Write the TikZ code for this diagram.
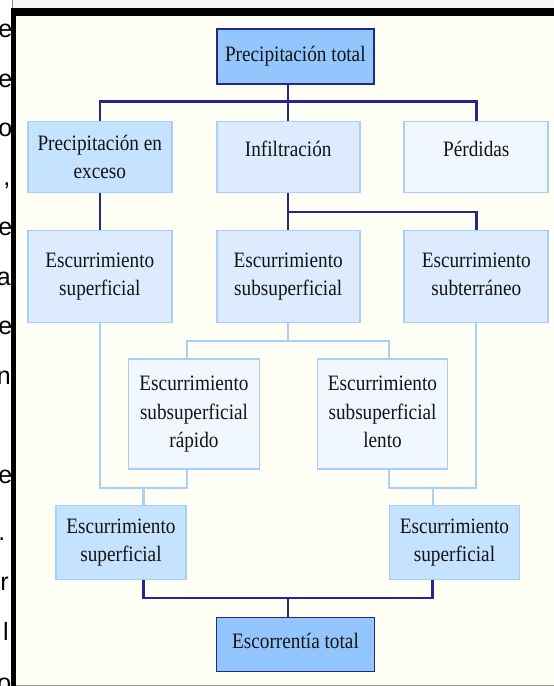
\documentclass[tikz,border=0pt]{standalone}
\usepackage{fontspec}
\setmainfont{Liberation Serif}[FakeStretch=0.875]
\newfontfamily\marginfont{Liberation Sans}
\usetikzlibrary{calc}
\definecolor{dkline}{RGB}{38,38,140}
\definecolor{ltline}{RGB}{166,210,250}
\definecolor{ltborder}{RGB}{166,208,250}
\definecolor{fmed}{RGB}{146,198,253}
\definecolor{flight}{RGB}{197,226,255}
\definecolor{fpale}{RGB}{220,236,254}
\definecolor{fvpale}{RGB}{240,247,255}
\definecolor{cream}{RGB}{255,255,246}
\definecolor{txt}{RGB}{20,20,20}
\begin{document}
\begin{tikzpicture}[x=1pt,y=-1pt,
  box/.style={inner sep=0pt, align=center, text=txt, font=\fontsize{22}{28.5}\selectfont},
  dkbox/.style={draw=dkline, line width=1.8pt},
  ltbox/.style={draw=ltborder, line width=1.8pt},
  dk/.style={draw=dkline, line width=2.5pt},
  lt/.style={draw=ltline, line width=2.3pt},
  mg/.style={anchor=base east, inner sep=0pt, text=black, font=\marginfont\fontsize{25}{25}\selectfont}]
\useasboundingbox (0,0) rectangle (554,686);
% page background and frame
\fill[white] (0,0) rectangle (554,686);
\fill[black!4] (12,0) rectangle (554,8);
\fill[cream] (15.5,15.5) rectangle (554,684.5);
\fill[black] (11,8) rectangle (554,15.5);
\fill[black] (11,8) rectangle (15.5,686);
\draw[black!45, line width=0.8pt] (12.5,0) -- (12.5,8);
\draw[black!40, line width=1pt] (15.5,685) -- (554,685);
% cropped text fragments in the left margin
\node[mg] (m1) at (12.5,37) {e};
\node[mg] (m2) at (12.5,87) {e};
\node[mg] (m3) at (12.5,136) {o};
\node[mg] (m4) at (10.5,185) {,};
\node[mg] (m5) at (12.5,235) {e};
\node[mg] (m6) at (11,285) {a};
\node[mg] (m7) at (12.5,334) {e};
\node[mg] (m8) at (11,384) {n};
\node[mg] (m9) at (12.5,483) {e};
\node[mg] (m10) at (5.5,540) {.};
\node[mg] (m11) at (9,590) {r};
\node[mg] (m12) at (9,640) {l};
\node[mg] (m13) at (11.5,691) {o};
% nodes
\node[box, dkbox, fill=fmed, minimum width=157, minimum height=55] (pt) at (295.3,56.2) {Precipitación total};
\node[box, ltbox, fill=flight, minimum width=144, minimum height=71] (exc) at (99.8,157) {Precipitación en\\exceso};
\node[box, ltbox, fill=fpale, minimum width=143, minimum height=71, text depth=17pt] (inf) at (288.2,157) {Infiltración};
\node[box, ltbox, fill=fvpale, minimum width=144, minimum height=71, text depth=17pt] (per) at (476.3,157) {Pérdidas};
\node[box, ltbox, fill=fpale, minimum width=144, minimum height=92] (es1) at (99.8,276.5) {Escurrimiento\\superficial};
\node[box, ltbox, fill=fpale, minimum width=143, minimum height=92] (es2) at (288.2,276.5) {Escurrimiento\\subsuperficial};
\node[box, ltbox, fill=fpale, minimum width=144, minimum height=92, text depth=4.8pt] (es3) at (476.3,276.5) {Escurrimiento\\subterráneo};
\node[box, ltbox, fill=fvpale, minimum width=131, minimum height=110] (rap) at (194,414.2) {Escurrimiento\\subsuperficial\\rápido};
\node[box, ltbox, fill=fvpale, minimum width=130, minimum height=110, text depth=4.8pt] (len) at (382.5,414.2) {Escurrimiento\\subsuperficial\\lento};
\node[box, ltbox, fill=flight, minimum width=130, minimum height=74] (s5l) at (121,542.5) {Escurrimiento\\superficial};
\node[box, ltbox, fill=flight, minimum width=130, minimum height=74] (s5r) at (454.5,542.5) {Escurrimiento\\superficial};
\node[box, dkbox, fill=fmed, minimum width=158, minimum height=54, text depth=8pt] (et) at (295.5,644.5) {Escorrentía total};
% bus levels
\coordinate (y1) at (0,101.7);
\coordinate (y2) at (0,212);
\coordinate (y3) at (0,341);
\coordinate (y4) at (0,488);
\coordinate (y5) at (0,598);
% dark connectors (top)
\draw[dk] (exc.north) |- (per.north |- y1) -- (per.north);
\draw[dk] (pt.south -| inf.north) -- (inf.north);
\draw[dk] (exc.south) -- (es1.north);
\draw[dk] (inf.south) -- (es2.north);
\draw[dk] (inf.south |- y2) -| (es3.north);
% light connectors
\coordinate (ra) at ([xshift=-7pt]rap.north);
\coordinate (la) at ([xshift=6.5pt]len.north);
\coordinate (rb) at ([xshift=-7pt]rap.south);
\coordinate (lb) at ([xshift=6.5pt]len.south);
\draw[lt] (es2.south) -- (es2.south |- y3);
\draw[lt] (ra) |- (la |- y3) -- (la);
\draw[lt] (es1.south) |- (rb |- y4) -- (rb);
\draw[lt] (es3.south) |- (lb |- y4) -- (lb);
\coordinate (mL) at ($(es1.south |- y4)!0.5!(rb |- y4)$);
\coordinate (mR) at ($(lb |- y4)!0.5!(es3.south |- y4)$);
\draw[lt] (mL) -- (mL |- s5l.north);
\draw[lt] (mR) -- (mR |- s5r.north);
% dark connectors (bottom)
\draw[dk] (mL |- s5l.south) |- (mR |- y5) -- (mR |- s5r.south);
\coordinate (mB) at ($(mL |- y5)!0.5!(mR |- y5)$);
\draw[dk] (mB) -- (mB |- et.north);
\end{tikzpicture}
\end{document}
